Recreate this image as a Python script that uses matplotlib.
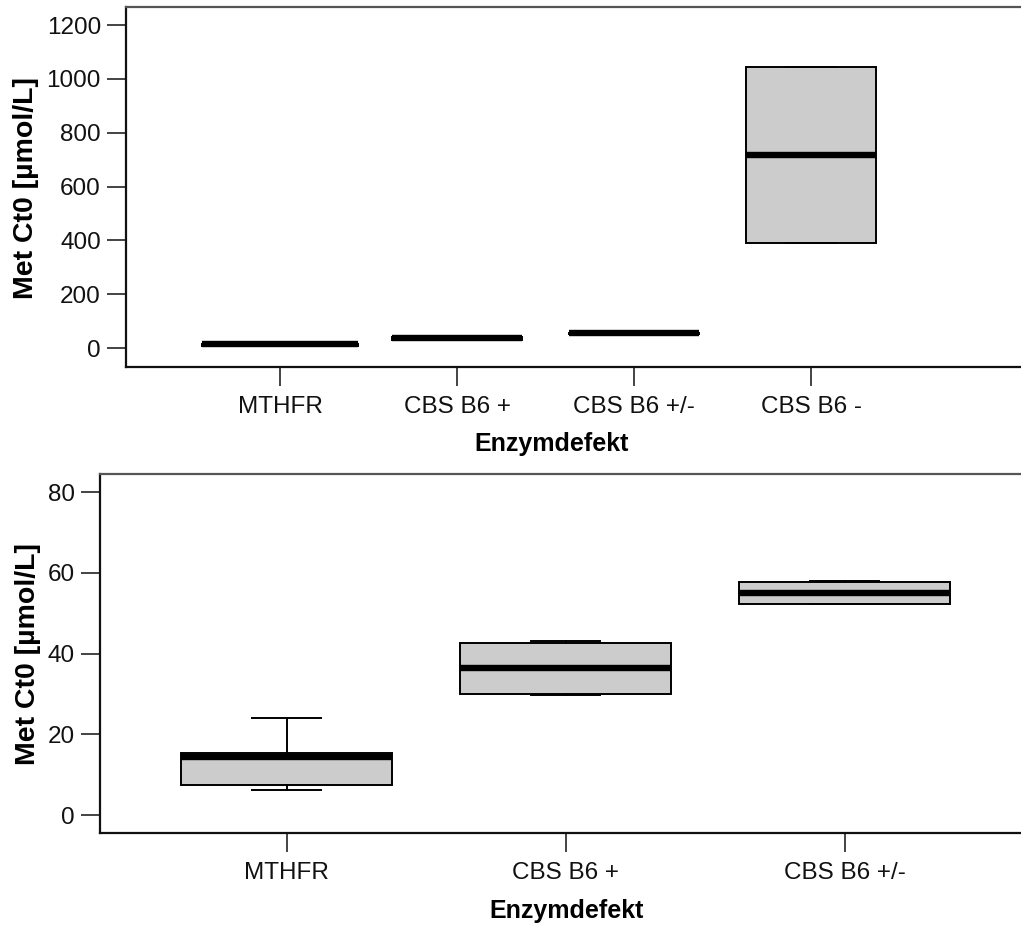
import matplotlib
matplotlib.use('Agg')
from matplotlib import pyplot as plt

plt.rcParams['font.family'] = ['Liberation Sans', 'DejaVu Sans']

# Met Ct0 box statistics per enzyme defect (umol/L)
groups_all = ['MTHFR', 'CBS B6 +', 'CBS B6 +/-', 'CBS B6 -']
groups_sub = ['MTHFR', 'CBS B6 +', 'CBS B6 +/-']

whis_lo = [6.2, 29.8, 52.2, 389]
q1 = [7.4, 30.1, 52.4, 389]
median = [14.4, 36.4, 55.1, 717]
q3 = [15.3, 42.7, 57.7, 1044]
whis_hi = [24.0, 43.0, 58.0, 1044]

top_ticks = [0, 200, 400, 600, 800, 1000, 1200]
sub_ticks = [0, 20, 40, 60, 80]

FILL = '#cccccc'


def box_stats(n):
    return [dict(label=groups_all[i], whislo=whis_lo[i], q1=q1[i], med=median[i],
                 q3=q3[i], whishi=whis_hi[i], fliers=[]) for i in range(n)]


def style_axis(ax, ticks, labels, ylim, xlim):
    ax.set_ylim(*ylim)
    ax.set_xlim(*xlim)
    ax.set_yticks(ticks)
    ax.set_xticks(range(len(labels)))
    ax.set_xticklabels(labels)
    ax.tick_params(axis='both', direction='out', length=14, width=1.1,
                   labelsize=17.5, colors='#111111')
    ax.tick_params(axis='y', pad=4)
    ax.tick_params(axis='x', pad=7)
    ax.spines['right'].set_visible(False)
    for side in ['left', 'bottom']:
        ax.spines[side].set_linewidth(1.6)
        ax.spines[side].set_color('#111111')
    ax.spines['top'].set_linewidth(1.6)
    ax.spines['top'].set_color('#555555')


def draw_boxes(ax, stats, widths, cap):
    ax.bxp(stats, positions=range(len(stats)), widths=widths, patch_artist=True,
           showfliers=False, capwidths=cap,
           boxprops=dict(facecolor=FILL, edgecolor='black', linewidth=1.4),
           medianprops=dict(color='black', linewidth=4.6, solid_capstyle='butt'),
           whiskerprops=dict(color='black', linewidth=1.4),
           capprops=dict(color='black', linewidth=1.4))


fig = plt.figure(figsize=(10.21, 9.27), dpi=100)

# all four groups
ax_top = fig.add_axes([0.1234, 0.6041, 0.8766, 0.3883])
draw_boxes(ax_top, box_stats(4), [0.876, 0.734, 0.734, 0.734], 0.28)
style_axis(ax_top, top_ticks, groups_all, (-70, 1267), (-0.870, 4.186))

# zoom on the three low groups
ax_sub = fig.add_axes([0.0979, 0.1014, 0.9021, 0.3873])
draw_boxes(ax_sub, box_stats(3), 0.756, 0.247)
style_axis(ax_sub, sub_ticks, groups_sub, (-4.46, 84.5), (-0.670, 2.631))

ylab = 'Met Ct0 [µmol/L]'
fig.text(0.0255, 0.7972, ylab, rotation=90, ha='center', va='center',
         fontsize=20.5, fontweight='bold')
fig.text(0.0274, 0.2945, ylab, rotation=90, ha='center', va='center',
         fontsize=20.5, fontweight='bold')
fig.text(0.5406, 0.5210, 'Enzymdefekt', ha='center', va='center',
         fontsize=18, fontweight='bold')
fig.text(0.5553, 0.0173, 'Enzymdefekt', ha='center', va='center',
         fontsize=18, fontweight='bold')

fig.savefig('out.png', dpi=100)
